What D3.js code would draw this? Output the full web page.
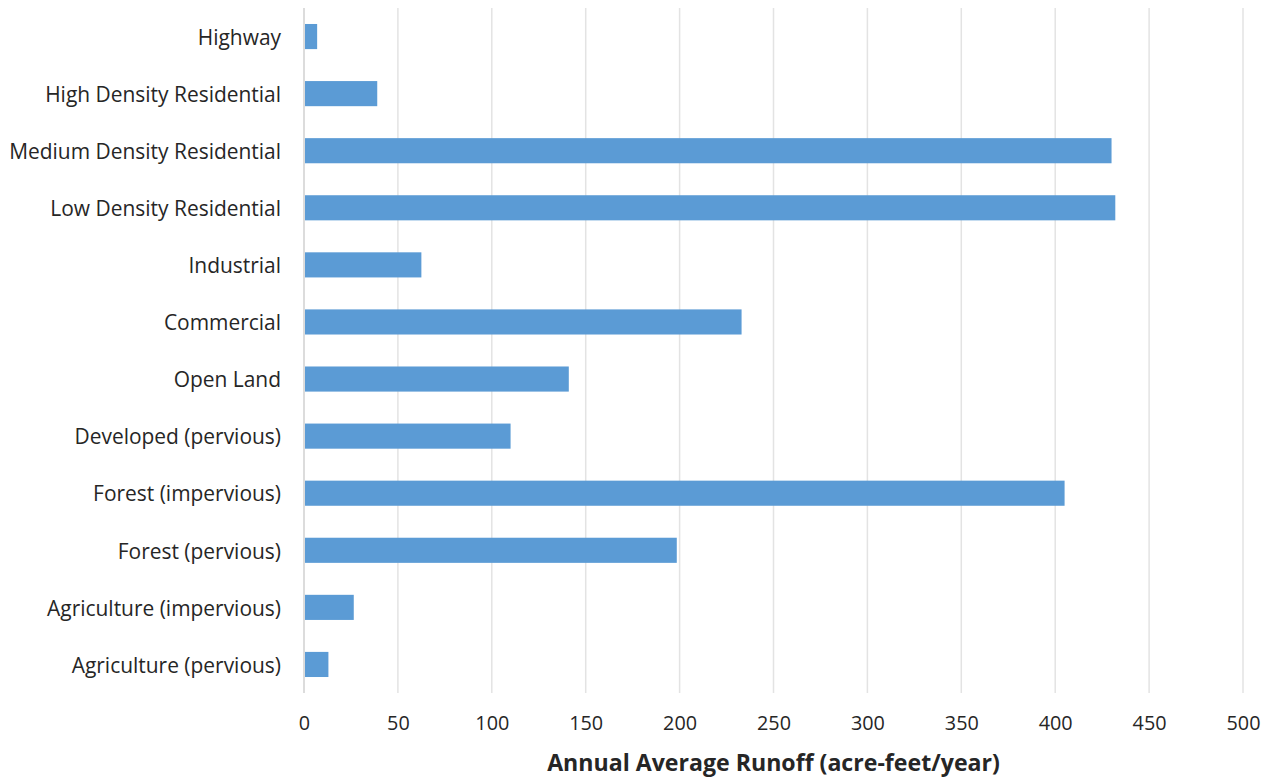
<!DOCTYPE html>
<html>
<head>
<meta charset="utf-8">
<script src="https://cdn.jsdelivr.net/npm/d3@7"></script>
<style>
  html, body { margin: 0; padding: 0; background: #fff; }
  svg { display: block; font-family: "Open Sans", Lato, sans-serif; }
</style>
</head>
<body>
<svg id="chart" width="1276" height="779"></svg>
<script>
// Land-use categories, top to bottom
const categories = [
  "Highway",
  "High Density Residential",
  "Medium Density Residential",
  "Low Density Residential",
  "Industrial",
  "Commercial",
  "Open Land",
  "Developed (pervious)",
  "Forest (impervious)",
  "Forest (pervious)",
  "Agriculture (impervious)",
  "Agriculture (pervious)"
];

// Annual average runoff, acre-feet/year
const runoff = [7, 39, 430, 432, 62.5, 233, 141, 110, 405, 198.5, 26.5, 13];

const xTicks = [0, 50, 100, 150, 200, 250, 300, 350, 400, 450, 500];
const xTitle = "Annual Average Runoff (acre-feet/year)";

const FONT = "'Open Sans', Lato, sans-serif";
const margin = { top: 8, right: 33, bottom: 86, left: 304 };
const width = 1276, height = 779;

const svg = d3.select("#chart");

const x = d3.scaleLinear()
  .domain([0, 500])
  .range([margin.left, width - margin.right]);

const y = d3.scaleBand()
  .domain(categories)
  .range([margin.top, height - margin.bottom])
  .paddingInner(0.56)
  .paddingOuter(0.28);

// Scale a text selection's font size so that its widest item spans `target` px
function fitFont(sel, target) {
  let widest = 0;
  sel.each(function () { widest = Math.max(widest, this.getComputedTextLength()); });
  const fs = parseFloat(sel.attr("font-size"));
  if (widest > 0) sel.attr("font-size", (fs * target / widest).toFixed(2));
}

// Vertical gridlines
svg.append("g")
  .selectAll("line")
  .data(xTicks.filter(d => d > 0))
  .join("line")
  .attr("x1", d => x(d)).attr("x2", d => x(d))
  .attr("y1", margin.top).attr("y2", height - margin.bottom)
  .attr("stroke", "#e3e3e3")
  .attr("stroke-width", 1.5);

// Bars
svg.append("g")
  .selectAll("rect")
  .data(categories.map((c, i) => ({ c, v: runoff[i] })))
  .join("rect")
  .attr("x", x(0) + 1)
  .attr("y", d => y(d.c))
  .attr("width", d => x(d.v) - x(0) - 1)
  .attr("height", y.bandwidth())
  .attr("fill", "#5b9bd5");

// Value axis line at zero
svg.append("line")
  .attr("x1", x(0)).attr("x2", x(0))
  .attr("y1", margin.top).attr("y2", height - margin.bottom)
  .attr("stroke", "#d0d0d0")
  .attr("stroke-width", 1.5);

// X tick labels
const xAxis = d3.axisBottom(x).tickValues(xTicks).tickSize(0).tickPadding(23);
const gx = svg.append("g")
  .attr("transform", `translate(0,${height - margin.bottom})`)
  .call(xAxis);
gx.select(".domain").remove();
const xt = gx.selectAll("text")
  .attr("font-family", FONT)
  .attr("font-size", 18)
  .attr("fill", "#262626");
const ref150 = gx.selectAll(".tick").filter(d => d === 150).select("text");
fitFont(ref150, 34);
xt.attr("font-size", ref150.attr("font-size"));

// Category labels
const yAxis = d3.axisLeft(y).tickSize(0).tickPadding(23);
const gy = svg.append("g")
  .attr("transform", `translate(${x(0)},1.5)`)
  .call(yAxis);
gy.select(".domain").remove();
const yt = gy.selectAll("text")
  .attr("font-family", FONT)
  .attr("font-size", 19)
  .attr("fill", "#262626");
fitFont(yt, 272);

// Axis title
const title = svg.append("text")
  .attr("x", (x(0) + x(500)) / 2)
  .attr("y", 771)
  .attr("text-anchor", "middle")
  .attr("font-family", FONT)
  .attr("font-weight", "bold")
  .attr("font-size", 22)
  .attr("fill", "#262626")
  .text(xTitle);
fitFont(title, 453);
</script>
</body>
</html>
